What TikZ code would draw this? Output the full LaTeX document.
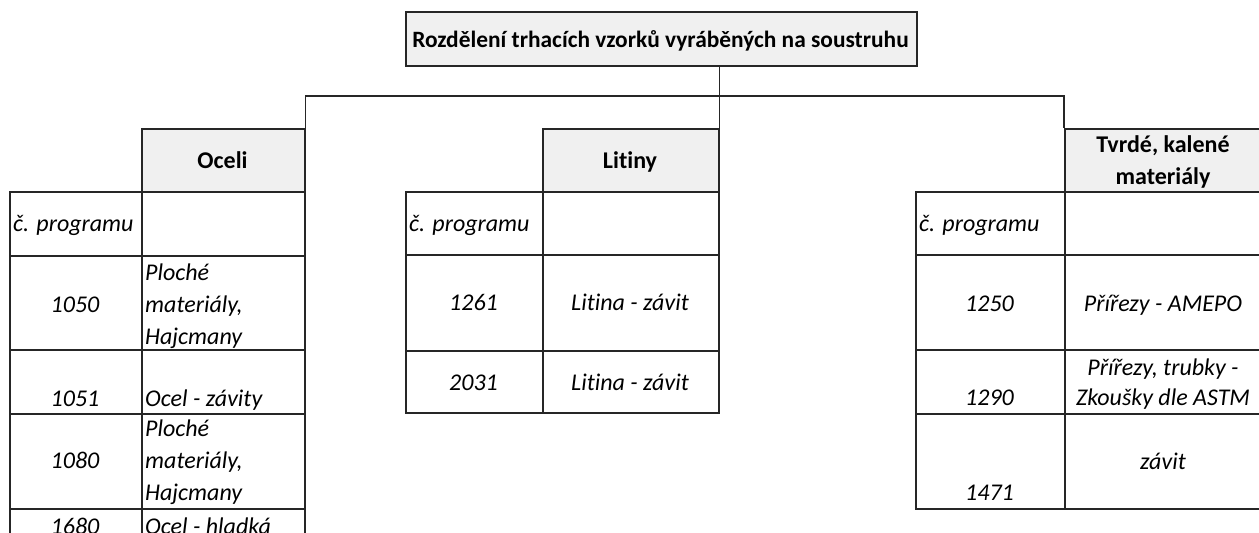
\documentclass[tikz,border=0pt]{standalone}
\usepackage{fontspec}
\setmainfont{Carlito}[Ligatures=CommonOff]
\begin{document}
\begin{tikzpicture}[x=1pt,y=-1pt,
  font=\fontsize{24}{32}\selectfont,
  cell/.style={draw=black!85, line width=1.5pt, inner sep=0pt, anchor=north west},
  head/.style={cell, fill=black!6},
  conn/.style={draw=black!85, line width=1.5pt},
  txt/.style={inner sep=0pt, anchor=base, font=\fontsize{24}{32}\selectfont\itshape},
  txtl/.style={txt, anchor=base west},
  htxt/.style={inner sep=0pt, anchor=base, font=\fontsize{24}{32}\selectfont\bfseries}]
\useasboundingbox (0,0) rectangle (1259,533);
\clip (0,0) rectangle (1259,533);
% title
\node[head, minimum width=511pt, minimum height=54pt] (title) at (405,11) {};
\node[htxt, font=\fontsize{23.4}{32}\selectfont\bfseries] (titletxt) at (660.5,47) {Rozdělení trhacích vzorků vyráběných na soustruhu};
% headers
\node[head, minimum width=163pt, minimum height=63pt] (oceli) at (141,128) {};
\node[htxt] (ocelitxt) at (222.5,168) {Oceli};
\node[head, minimum width=176pt, minimum height=63pt] (litiny) at (542,128) {};
\node[htxt] (litinytxt) at (630,168) {Litiny};
\node[head, minimum width=200pt, minimum height=63pt] (tvrde) at (1064,128) {};
\node[htxt] (tvrdetxt1) at (1163,152) {Tvrdé, kalené};
\node[htxt] (tvrdetxt2) at (1163,184) {materiály};
% connectors
\coordinate (hub) at (718,96);
\draw[conn] (litiny.north east) -- (litiny.north east |- title.south);
\draw[conn] (oceli.north east) |- (hub) -| (tvrde.north west);
% left table
\node[cell, minimum width=132pt, minimum height=64pt] (L0a) at (9,191) {};
\node[cell, minimum width=163pt, minimum height=64pt] (L0b) at (141,191) {};
\node[cell, minimum width=132pt, minimum height=94pt] (L1a) at (9,255) {};
\node[cell, minimum width=163pt, minimum height=94pt] (L1b) at (141,255) {};
\node[cell, minimum width=132pt, minimum height=64pt] (L2a) at (9,349) {};
\node[cell, minimum width=163pt, minimum height=64pt] (L2b) at (141,349) {};
\node[cell, minimum width=132pt, minimum height=95pt] (L3a) at (9,413) {};
\node[cell, minimum width=163pt, minimum height=95pt] (L3b) at (141,413) {};
\node[cell, minimum width=132pt, minimum height=60pt] (L4a) at (9,508) {};
\node[cell, minimum width=163pt, minimum height=60pt] (L4b) at (141,508) {};
\node[txtl] (l0) at (13,231) {č. programu};
\node[txt] (l1a) at (75,312) {1050};
\node[txtl] (l1b1) at (145,280) {Ploché};
\node[txtl] (l1b2) at (145,312) {materiály,};
\node[txtl] (l1b3) at (145,344) {Hajcmany};
\node[txt] (l2a) at (75,406) {1051};
\node[txtl] (l2b) at (145,406) {Ocel - závity};
\node[txt] (l3a) at (75,468) {1080};
\node[txtl] (l3b1) at (145,436) {Ploché};
\node[txtl] (l3b2) at (145,468) {materiály,};
\node[txtl] (l3b3) at (145,500) {Hajcmany};
\node[txt] (l4a) at (75,534) {1680};
\node[txtl] (l4b) at (145,534) {Ocel - hladká};
% middle table
\node[cell, minimum width=137pt, minimum height=63pt] (M0a) at (405,191) {};
\node[cell, minimum width=176pt, minimum height=63pt] (M0b) at (542,191) {};
\node[cell, minimum width=137pt, minimum height=96pt] (M1a) at (405,254) {};
\node[cell, minimum width=176pt, minimum height=96pt] (M1b) at (542,254) {};
\node[cell, minimum width=137pt, minimum height=62pt] (M2a) at (405,350) {};
\node[cell, minimum width=176pt, minimum height=62pt] (M2b) at (542,350) {};
\node[txtl] (m0) at (409,231) {č. programu};
\node[txt] (m1a) at (473.5,310) {1261};
\node[txt] (m1b) at (630,310) {Litina - závit};
\node[txt] (m2a) at (473.5,390) {2031};
\node[txt] (m2b) at (630,390) {Litina - závit};
% right table
\node[cell, minimum width=149pt, minimum height=63pt] (R0a) at (915,191) {};
\node[cell, minimum width=200pt, minimum height=63pt] (R0b) at (1064,191) {};
\node[cell, minimum width=149pt, minimum height=95pt] (R1a) at (915,254) {};
\node[cell, minimum width=200pt, minimum height=95pt] (R1b) at (1064,254) {};
\node[cell, minimum width=149pt, minimum height=64pt] (R2a) at (915,349) {};
\node[cell, minimum width=200pt, minimum height=64pt] (R2b) at (1064,349) {};
\node[cell, minimum width=149pt, minimum height=95pt] (R3a) at (915,413) {};
\node[cell, minimum width=200pt, minimum height=95pt] (R3b) at (1064,413) {};
\node[txtl] (r0) at (919,231) {č. programu};
\node[txt] (r1a) at (989.5,311) {1250};
\node[txt] (r1b) at (1163,311) {Přířezy - AMEPO};
\node[txt] (r2a) at (989.5,405) {1290};
\node[txt] (r2b1) at (1163,375) {Přířezy, trubky -};
\node[txt] (r2b2) at (1163,405) {Zkoušky dle ASTM};
\node[txt] (r3a) at (989.5,500) {1471};
\node[txt] (r3b) at (1163,469) {závit};
\end{tikzpicture}
\end{document}
